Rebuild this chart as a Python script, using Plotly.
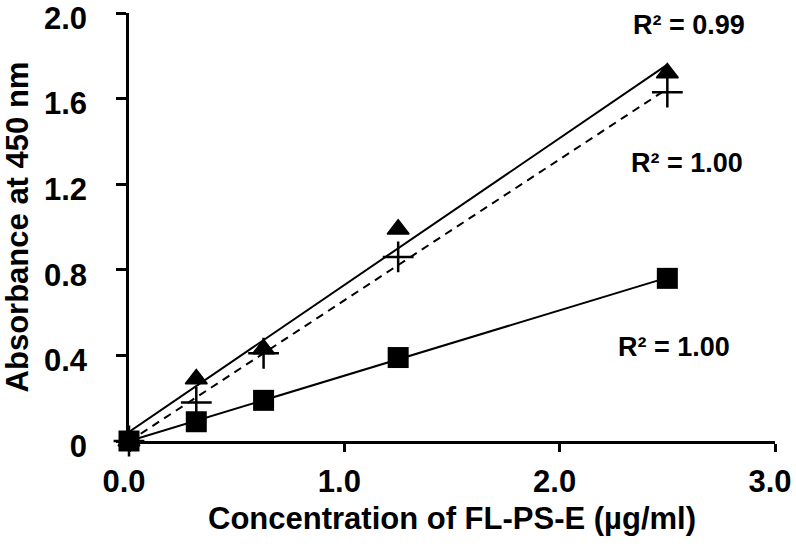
import numpy as np
import plotly.graph_objects as go

# Data
conc = [0.0, 0.3125, 0.625, 1.25, 2.5]
abs_square = [0.0, 0.09, 0.19, 0.39, 0.76]
abs_triangle = [0.0, 0.29, 0.43, 0.99, 1.72]
abs_cross = [0.0, 0.18, 0.41, 0.86, 1.63]

r2_labels = ["R² = 0.99", "R² = 1.00", "R² = 1.00"]
r2_x = [2.60, 2.59, 2.53]
r2_y = [1.945, 1.30, 0.44]

x_tickvals = [0, 1, 2, 3]
x_ticktext = ["0.0", "1.0", "2.0", "3.0"]
y_tickvals = [0, 0.4, 0.8, 1.2, 1.6, 2.0]
y_ticktext = ["0", "0.4", "0.8", "1.2", "1.6", "2.0"]

FONT = "Liberation Sans, Arial, sans-serif"

fig = go.Figure()

def trend(y, dash):
    m, b = np.polyfit(conc, y, 1)
    xs = [0.0, max(conc)]
    return go.Scatter(x=xs, y=[b + m * v for v in xs], mode="lines",
                      line=dict(color="black", width=2, dash=dash),
                      showlegend=False, hoverinfo="skip", cliponaxis=False)

fig.add_trace(trend(abs_square, "solid"))
fig.add_trace(trend(abs_triangle, "solid"))
fig.add_trace(trend(abs_cross, "8px,6px"))

fig.add_trace(go.Scatter(x=conc, y=abs_cross, mode="markers", cliponaxis=False,
                         marker=dict(symbol="cross-thin", size=22, color="black",
                                     line=dict(color="black", width=2.5)),
                         showlegend=False))
fig.add_trace(go.Scatter(x=conc, y=abs_triangle, mode="markers", cliponaxis=False,
                         marker=dict(symbol="triangle-up", size=19, color="black",
                                     line=dict(color="black", width=1.5)),
                         showlegend=False))
fig.add_trace(go.Scatter(x=conc, y=abs_square, mode="markers", cliponaxis=False,
                         marker=dict(symbol="square", size=21, color="black",
                                     line=dict(width=0)),
                         showlegend=False))

for t, x, y in zip(r2_labels, r2_x, r2_y):
    fig.add_annotation(x=x, y=y, text=t, showarrow=False, xanchor="center", yanchor="middle",
                       font=dict(family=FONT, size=27, color="black", weight="bold"))

fig.update_layout(
    width=796, height=549,
    margin=dict(l=129, r=21, t=13, b=108, autoexpand=False),
    paper_bgcolor="white", plot_bgcolor="white",
    font=dict(family=FONT, color="black"),
    showlegend=False,
)
fig.update_xaxes(
    range=[0, 3], showgrid=False, zeroline=False, automargin=False,
    showline=True, linecolor="black", linewidth=2.5,
    ticks="outside", ticklen=8, tickwidth=2.5, tickcolor="black",
    tickvals=x_tickvals, ticktext=x_ticktext, ticklabelstandoff=3,
    ticklabelshift=-5, ticklabeloverflow="allow",
    tickfont=dict(family=FONT, size=31, color="black", weight="bold"),
    title=dict(text="Concentration of FL-PS-E (µg/ml)", standoff=10,
               font=dict(family=FONT, size=31, color="black", weight="bold")),
)
fig.update_yaxes(
    range=[0, 2.0], showgrid=False, zeroline=False, automargin=False,
    showline=True, linecolor="black", linewidth=2.5,
    ticks="outside", ticklen=10, tickwidth=2.5, tickcolor="black",
    tickvals=y_tickvals, ticktext=y_ticktext, ticklabelstandoff=23,
    ticklabelshift=5, ticklabeloverflow="allow",
    tickfont=dict(family=FONT, size=31, color="black", weight="bold"),
    title=dict(text="Absorbance at 450 nm", standoff=14,
               font=dict(family=FONT, size=31, color="black", weight="bold")),
)

fig.write_html("out.html", config={"displayModeBar": False},
               post_script="document.body.style.margin='0';document.body.style.overflow='hidden';")
